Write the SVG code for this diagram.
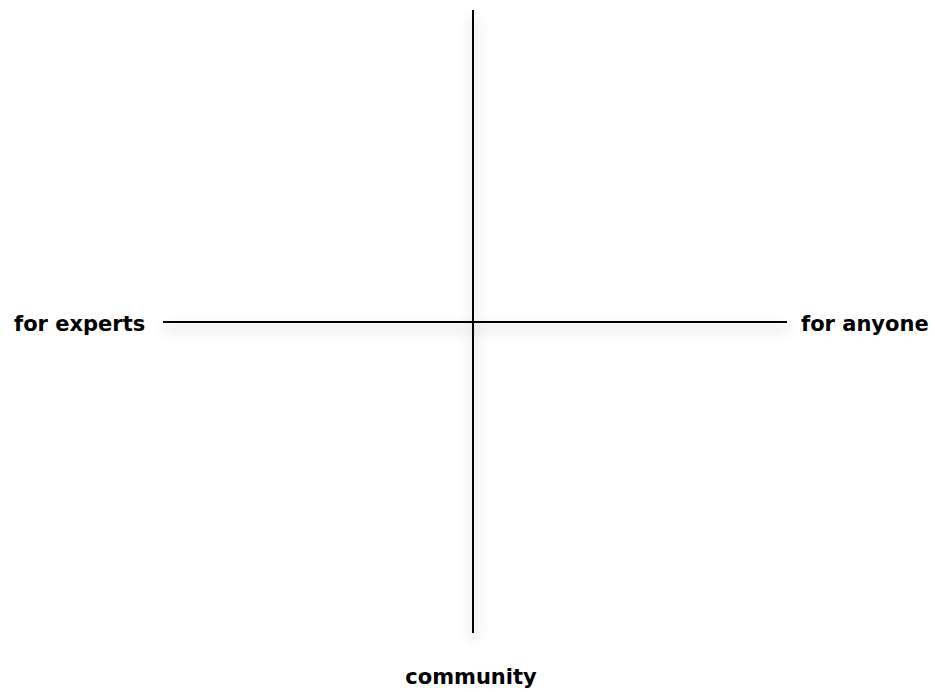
<svg xmlns="http://www.w3.org/2000/svg" width="935" height="692" viewBox="0 0 935 692">
<style>
.ax{stroke:#000;stroke-width:2;fill:none}
.lbl{font-family:"DejaVu Sans","Liberation Sans",sans-serif;font-weight:bold;font-size:21px;fill:#000}
</style>
<defs>
<filter id="sh" x="-20%" y="-20%" width="140%" height="140%">
<feDropShadow dx="1" dy="7" stdDeviation="6" flood-color="#000" flood-opacity="0.3"/>
</filter>
</defs>
<rect width="935" height="692" fill="#fff"/>
<g id="connectors" filter="url(#sh)">
<line class="ax" x1="473" y1="10" x2="473" y2="633"/>
<line class="ax" x1="163" y1="322" x2="787" y2="322"/>
</g>
<g id="left"><text class="lbl" x="14" y="331">for experts</text></g>
<g id="right"><text class="lbl" x="801" y="331">for anyone</text></g>
<g id="bottom"><text class="lbl" x="471" y="684" text-anchor="middle">community</text></g>
</svg>
